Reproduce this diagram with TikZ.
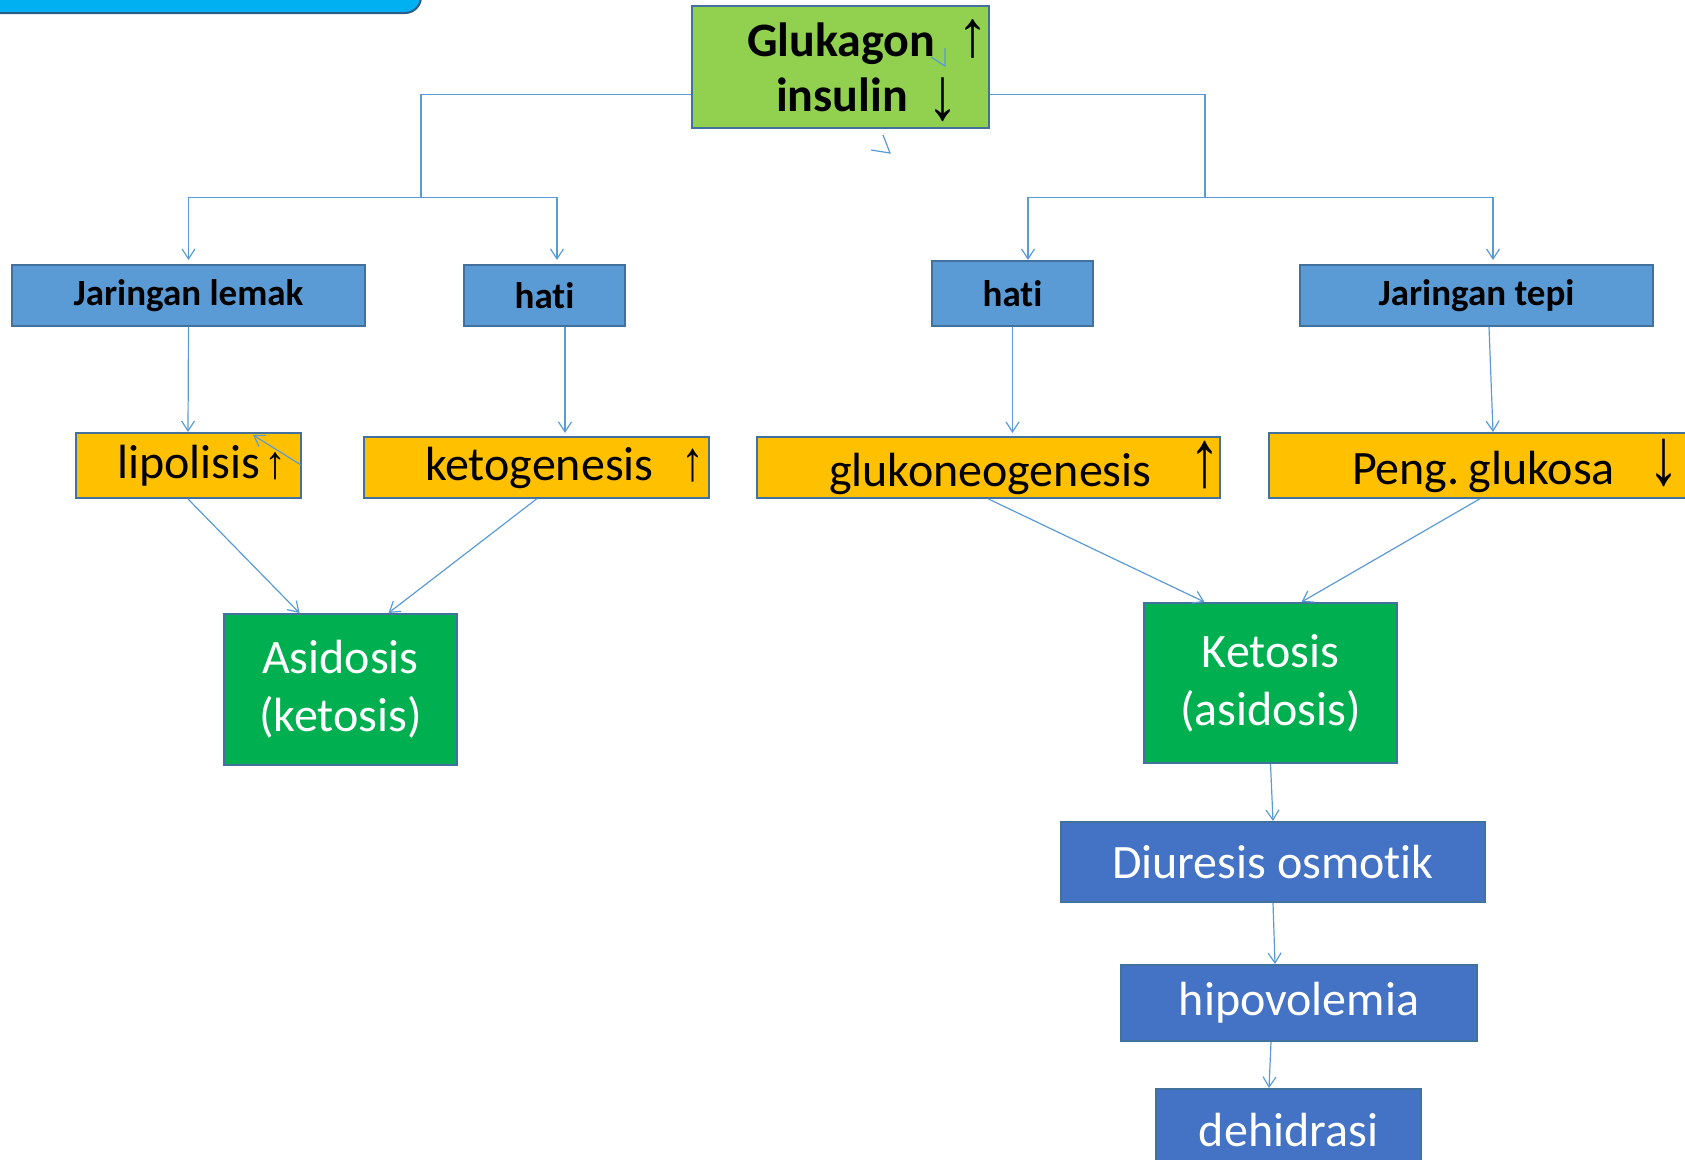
\documentclass[tikz,border=0pt]{standalone}
\usepackage{fontspec}
\setmainfont[Ligatures=NoCommon]{Carlito}
\newfontfamily\arr{Liberation Serif}
\usetikzlibrary{arrows.meta,calc}
\definecolor{edge}{HTML}{41719C}
\definecolor{linkblue}{HTML}{5B9BD5}
\definecolor{hormone}{HTML}{92D050}
\definecolor{organblue}{HTML}{5B9BD5}
\definecolor{procgold}{HTML}{FFC000}
\definecolor{stategreen}{HTML}{00B050}
\definecolor{effectblue}{HTML}{4472C4}
\definecolor{bannerfill}{HTML}{00B0F0}
\definecolor{bannerline}{HTML}{2E5C8A}
\newcommand\txtL{\fontsize{48}{58}\selectfont}
\newcommand\txtS{\fontsize{37}{44}\selectfont}
% arrow glyph: size, vertical stretch
\newcommand\arrup[2]{{\arr\fontsize{#1}{#1}\selectfont\scalebox{1}[#2]{↑}}}
\newcommand\arrdn[2]{{\arr\fontsize{#1}{#1}\selectfont\scalebox{1}[#2]{↓}}}
\begin{document}
\begin{tikzpicture}[x=1pt,y=-1pt,>={Straight Barb[length=10pt,width=13pt]},
  box/.style={draw=edge,line width=2pt,inner sep=0pt,align=center},
  organ/.style={box,fill=organblue,font=\txtS\bfseries},
  proc/.style={box,fill=procgold,font=\txtL,align=left},
  state/.style={box,fill=stategreen,text=white,font=\txtL},
  effect/.style={box,fill=effectblue,text=white,font=\txtL},
  link/.style={draw=linkblue,line width=1.2pt}]
\useasboundingbox (0,0) rectangle (1685,1159);
% title tab, top left
\draw[draw=bannerline,fill=bannerfill,line width=2pt,rounded corners=16pt] (-30,-30) rectangle (421,13);
% hormones
\node[box,fill=hormone,font=\txtL\bfseries,align=left,text width=297pt,minimum height=122pt] (glu) at (840.5,67)
  {\rule{0pt}{44pt}\hspace*{55pt}\mbox{Glukagon\kern22pt\arrup{62}{1.06}}\\[-3pt]\hspace*{84pt}\mbox{insulin\kern20pt\raisebox{-8pt}{\arrdn{62}{1.2}}}};
% target organs
\node[organ,minimum width=353pt,minimum height=61pt] (jl) at (188.5,295.5) {Jaringan lemak};
\node[organ,minimum width=161pt,minimum height=61pt] (hl) at (544.5,295.5) {hati};
\node[organ,minimum width=161pt,minimum height=65pt] (hr) at (1012.5,293.5) {hati};
\node[organ,minimum width=353pt,minimum height=61pt] (jt) at (1476.5,295.5) {Jaringan tepi};
% processes
\node[proc,text width=225pt,minimum height=65pt] (lip) at (188,465.5) {\hspace*{42pt}\mbox{lipolisis\kern4pt\arrup{44}{1.05}}};
\node[proc,text width=345pt,minimum height=61pt] (keto) at (536.5,467.5) {\hspace*{61pt}\mbox{ketogenesis\kern28pt\arrup{46}{1.22}}};
\node[proc,text width=463pt,minimum height=61pt] (gluko) at (988.5,467.5) {\hspace*{72pt}\mbox{glukoneogenesis\kern38pt\arrup{62}{1.3}}};
\node[proc,text width=431pt,minimum height=65pt] (peng) at (1484.5,465.5) {\hspace*{83pt}\mbox{Peng.\kern9pt glukosa\kern34pt\arrdn{62}{1.3}}};
% results
\node[state,minimum width=233pt,minimum height=151pt] (asid) at (340.5,689.5) {Asidosis\\(ketosis)};
\node[state,minimum width=253pt,minimum height=160pt] (ket) at (1270.5,683) {Ketosis\\(asidosis)};
\node[effect,minimum width=424pt,minimum height=80pt] (diu) at (1273,862) {Diuresis osmotik};
\node[effect,minimum width=356pt,minimum height=76pt] (hipo) at (1299,1003) {hipovolemia};
\node[effect,minimum width=265pt,minimum height=81pt] (dehi) at (1288.5,1129.5) {dehidrasi};
% tree from the hormone box
\coordinate (lfork) at (421,197.7);
\coordinate (rfork) at (1205,197.7);
\draw[link] ($(glu.west)+(0,27.6)$) -| (lfork);
\draw[link] ($(glu.east)+(0,27.6)$) -| (rfork);
\draw[link,->] (lfork) -| ($(jl.north)+(0,-4)$);
\draw[link,->] (lfork) -| ($(hl.north)+(12.5,-4)$);
\draw[link,->] (rfork) -| ($(hr.north)+(15.5,0)$);
\draw[link,->] (rfork) -| ($(jt.north)+(16.5,-4)$);
% organs to processes
\draw[link,->] (jl.south) -- (lip.north);
\draw[link,->] ($(hl.south)+(20.5,0)$) -- ($(keto.north)+(28.5,-3)$);
\draw[link,->] (hr.south) -- ($(gluko.north)+(24,-3)$);
\draw[link,->] ($(jt.south)+(12.5,0)$) -- ($(peng.north)+(8.5,0)$);
% processes to results
\draw[link,->] (lip.south) -- ($(asid.north)+(-41,0)$);
\draw[link,->] (keto.south) -- ($(asid.north)+(48,0)$);
\draw[link,->] (gluko.south) -- ($(ket.north)+(-66,0)$);
\draw[link,->] ($(peng.south)+(-5,0)$) -- ($(ket.north)+(31,0)$);
\draw[link,->] (ket.south) -- (diu.north);
\draw[link,->] (diu.south) -- ($(hipo.north)+(-24,0)$);
\draw[link,->] ($(hipo.south)+(-28,0)$) -- ($(dehi.north)+(-19.5,0)$);
% stray tips
\draw[link] (931,57) -- (945,66) -- (945,48);
\draw[link] (883,135) -- (890,153) -- (871,150);
\coordinate (s1) at (301,465); \coordinate (s2) at (253,435);
\draw[link,->] (s1) -- (s2);
\end{tikzpicture}
\end{document}
